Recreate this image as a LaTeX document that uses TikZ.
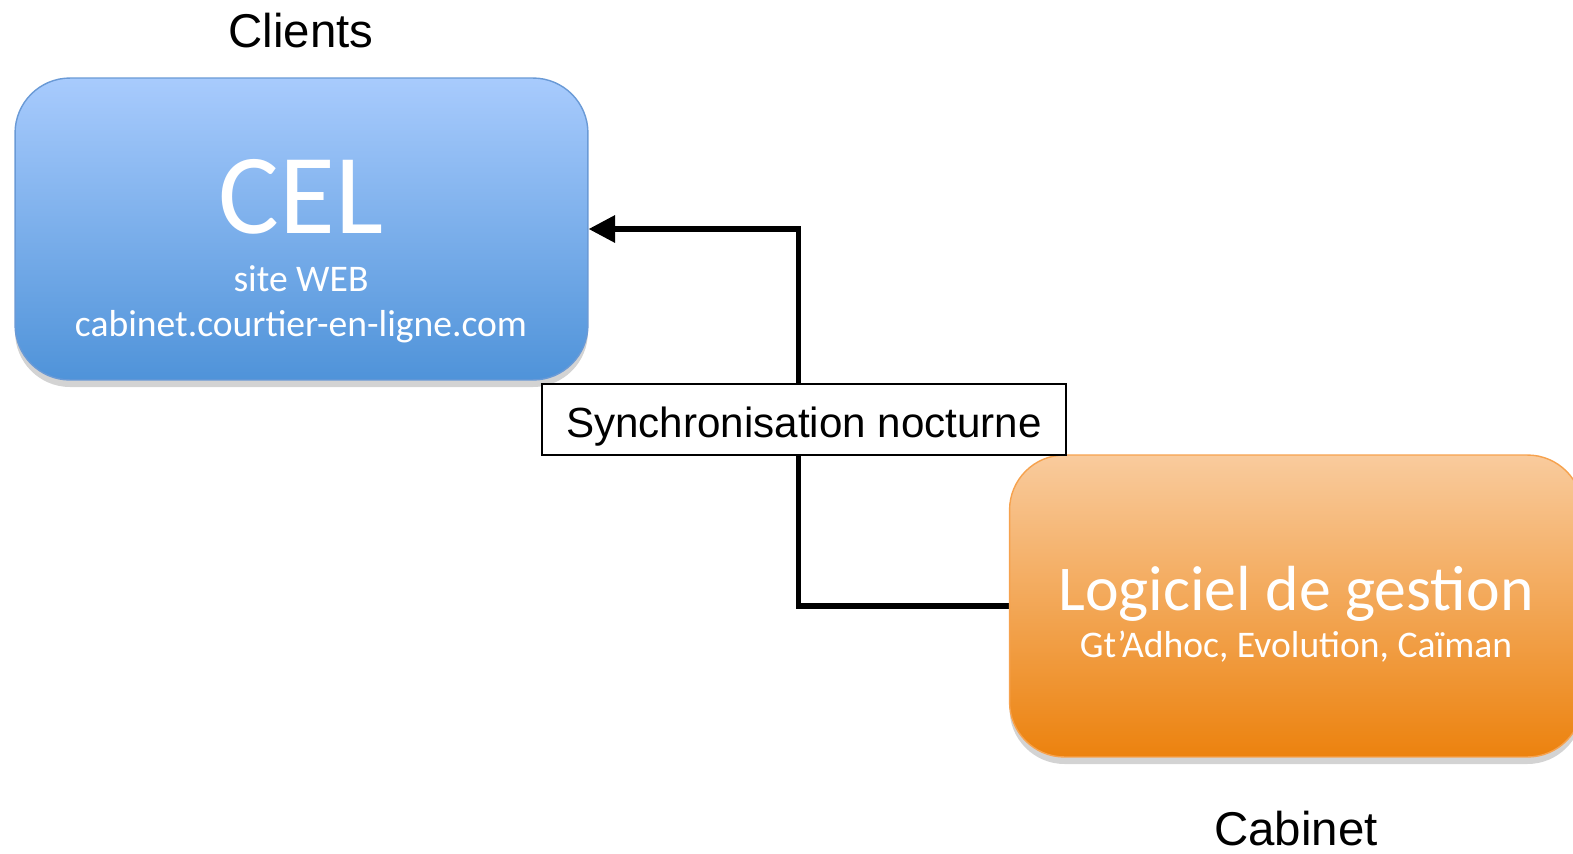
\documentclass[tikz,border=0pt]{standalone}
\usepackage{fontspec}
\setmainfont{Liberation Sans}
\newfontfamily\calibri{Carlito}
\usepackage{xcolor}
\usetikzlibrary{arrows.meta,shadows,backgrounds}

\definecolor{celtop}{HTML}{A8CBFD}
\definecolor{celbottom}{HTML}{4F93D9}
\definecolor{celborder}{HTML}{6A9AD6}
\definecolor{logtop}{HTML}{F9CB9D}
\definecolor{logbottom}{HTML}{EC820E}
\definecolor{logborder}{HTML}{F6A24E}

\begin{document}
\begin{tikzpicture}[x=0.02cm, y=-0.02cm,
    appbox/.style={rounded corners=1.1cm, minimum width=11.46cm, minimum height=6.04cm,
        line width=0.8pt, inner sep=0pt,
        drop shadow={shadow xshift=0pt, shadow yshift=-4pt, opacity=0.35}},
    boxtext/.style={anchor=base, text=white, inner sep=0pt, font=\calibri\fontsize{21.4}{25}\selectfont},
    sidelabel/.style={anchor=base, inner sep=0pt, font=\fontsize{27}{32}\selectfont}]
    \clip (0,0) rectangle (1573,853);

    % Clients side: CEL box
    \node[sidelabel] (clients) at (301,47) {Clients};
    \node[appbox, draw=celborder, top color=celtop, bottom color=celbottom] (cel) at (301.5,229) {};
    \node[boxtext, font=\calibri\fontsize{65}{70}\selectfont] (celname) at (301,233) {CEL};
    \node[boxtext] (celsite) at (301,291) {site WEB};
    \node[boxtext] (celurl) at (301,336) {cabinet.courtier-en-ligne.com};

    % Cabinet side: management software box
    \node[appbox, draw=logborder, top color=logtop, bottom color=logbottom] (logiciel) at (1296,606) {};
    \node[boxtext, font=\calibri\fontsize{36.3}{40}\selectfont] (logname) at (1296,610) {Logiciel de gestion};
    \node[boxtext] (loglist) at (1296,657) {Gt’Adhoc, Evolution, Caïman};
    \node[sidelabel] (cabinet) at (1296,845) {Cabinet};

    % Sync label and connector
    \node[draw, fill=white, line width=0.8pt, minimum width=10.48cm, minimum height=1.42cm,
        text height=20pt, text depth=0pt, font=\fontsize{24}{28}\selectfont] (sync) at (804,419.5) {Synchronisation nocturne};
    \begin{scope}[on background layer]
        \draw[line width=2.9pt, -{Triangle[length=15pt,width=15pt]}]
            (logiciel.west) -| ([xshift=-3pt]sync.center) |- (cel.east);
    \end{scope}
\end{tikzpicture}
\end{document}
